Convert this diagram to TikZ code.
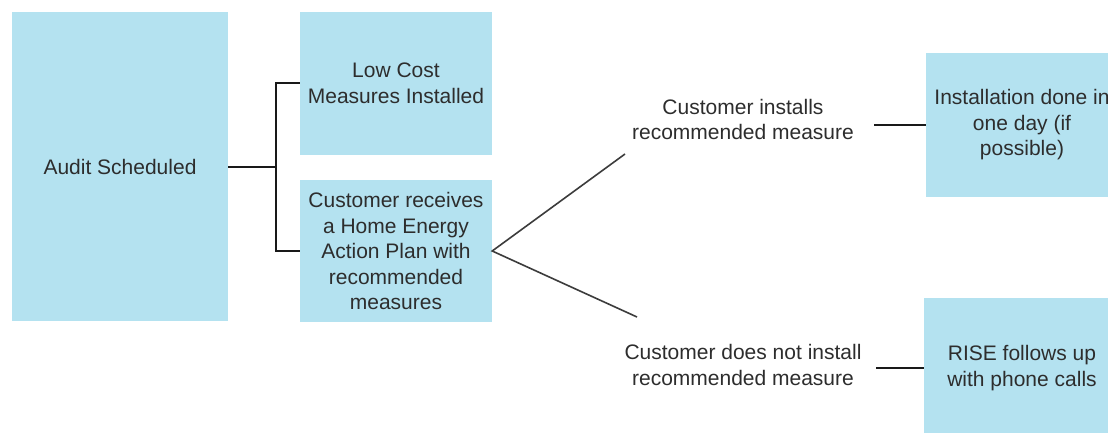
\documentclass[tikz,border=0pt]{standalone}
\usepackage{fontspec}
\setmainfont{Liberation Sans}
\definecolor{boxfill}{RGB}{180,226,240}
\definecolor{ink}{RGB}{45,45,45}
\definecolor{wire}{RGB}{25,25,25}
\begin{document}
\begin{tikzpicture}[x=1pt,y=-1pt,
  stepbox/.style={fill=boxfill,draw=none,inner sep=0pt,align=center,
    text=ink,font=\fontsize{21}{25.5}\selectfont},
  note/.style={inner sep=0pt,align=center,text=ink,
    font=\fontsize{21}{25.5}\selectfont},
  wire/.style={draw=wire,line width=2pt},
  thin wire/.style={draw=wire!85,line width=1.6pt}]
  % canvas
  \fill[white] (0,0) rectangle (1108,433);
  \clip (0,0) rectangle (1108,433);
  \useasboundingbox (0,0) rectangle (1108,433);

  % boxes
  \node[stepbox,minimum width=216pt,minimum height=309pt] (audit) at (120,166.5) {Audit Scheduled};
  \node[stepbox,minimum width=192pt,minimum height=143pt] (lowcost) at (396,83.5) {Low Cost\\Measures Installed};
  \node[stepbox,minimum width=192pt,minimum height=142pt] (plan) at (396,251)
    {Customer receives\\a Home Energy\\Action Plan with\\recommended\\measures};
  \node[stepbox,minimum width=192pt,minimum height=144pt] (oneday) at (1022,125)
    {Installation done in\\one day (if\\possible)};
  \node[stepbox,minimum width=196pt,minimum height=140pt] (rise) at (1022,368)
    {RISE follows up\\with phone calls};

  % outcome labels
  \node[note] (installs) at (743,119.5) {Customer installs\\recommended measure};
  \node[note] (notinstall) at (743,365) {Customer does not install\\recommended measure};

  % bracket from the audit to its two results
  \coordinate (fork) at (276,166.5);
  \draw[wire] (audit.east) -- (fork);
  \draw[wire] (lowcost.west) -| (fork) |- (plan.west);

  % branches from the action plan
  \coordinate (upEnd) at (625,154);
  \coordinate (downEnd) at (637,317);
  \draw[thin wire] (upEnd) -- (plan.east) -- (downEnd);

  % label to result
  \coordinate (installsOut) at (874,125);
  \coordinate (notinstallOut) at (876,368);
  \draw[wire] (installsOut) -- (oneday.west);
  \draw[wire] (notinstallOut) -- (rise.west);
\end{tikzpicture}
\end{document}
